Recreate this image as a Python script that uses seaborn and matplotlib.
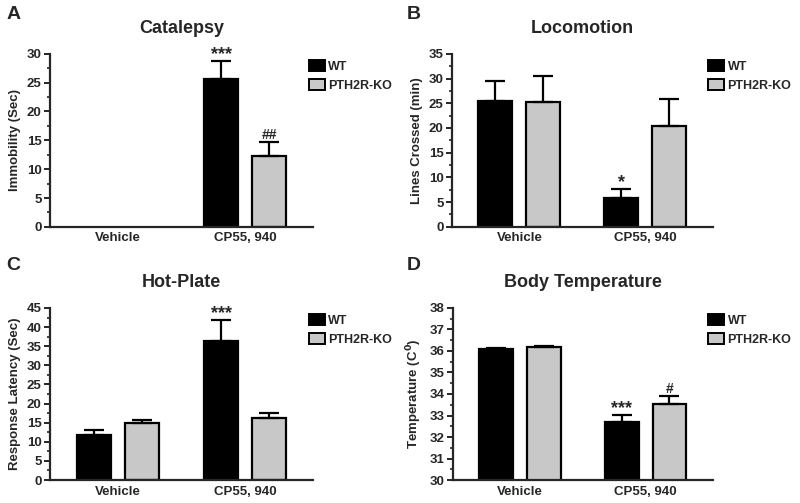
import numpy as np
import pandas as pd
import matplotlib
matplotlib.use("Agg")
import matplotlib.pyplot as plt
from matplotlib.ticker import AutoMinorLocator, MultipleLocator
from matplotlib.patches import Patch
import seaborn as sns

# data
treatments = ["Vehicle", "CP55, 940"]
genotypes = ["WT", "PTH2R-KO"]

catalepsy_wt = [0.0, 25.7]
catalepsy_ko = [0.0, 12.3]
catalepsy_wt_err = [0.0, 3.1]
catalepsy_ko_err = [0.0, 2.4]

locomotion_wt = [25.5, 5.9]
locomotion_ko = [25.3, 20.3]
locomotion_wt_err = [4.1, 1.7]
locomotion_ko_err = [5.2, 5.5]

hotplate_wt = [11.9, 36.4]
hotplate_ko = [14.9, 16.3]
hotplate_wt_err = [1.1, 5.5]
hotplate_ko_err = [0.8, 1.3]

temp_wt = [36.07, 32.70]
temp_ko = [36.18, 33.55]
temp_wt_err = [0.08, 0.34]
temp_ko_err = [0.07, 0.34]

# significance marks: (treatment index, genotype index, text)
catalepsy_marks = [(1, 0, "***"), (1, 1, "##")]
locomotion_marks = [(1, 0, "*")]
hotplate_marks = [(1, 0, "***")]
temp_marks = [(1, 0, "***"), (1, 1, "#")]

sns.set_style("ticks")
plt.rcParams["font.family"] = ["Liberation Sans", "DejaVu Sans"]
plt.rcParams["font.weight"] = "bold"
plt.rcParams["axes.labelweight"] = "bold"

colors = {"WT": "#000000", "PTH2R-KO": "#c8c8c8"}


def make_df(wt, ko, wt_err, ko_err):
    rows = []
    for i, t in enumerate(treatments):
        rows.append({"treatment": t, "genotype": "WT", "value": wt[i], "err": wt_err[i]})
        rows.append({"treatment": t, "genotype": "PTH2R-KO", "value": ko[i], "err": ko_err[i]})
    return pd.DataFrame(rows)


def panel(ax, df, marks, title, ylabel, ylim, step):
    sns.barplot(data=df, x="treatment", y="value", hue="genotype",
                order=treatments, hue_order=genotypes, palette=colors,
                width=0.76, gap=0.29, errorbar=None, edgecolor="black",
                linewidth=1.6, legend=False, ax=ax)
    # error bars (upper only) at the bar centres
    centers = {}
    for gi, g in enumerate(genotypes):
        cont = ax.containers[gi]
        for p in cont.patches:
            if p.get_height() == 0:
                p.set_linewidth(0)
        xs = [p.get_x() + p.get_width() / 2 for p in cont.patches]
        sub = df[df["genotype"] == g].set_index("treatment").loc[treatments]
        vals = sub["value"].values
        errs = sub["err"].values
        keep = errs > 0
        ax.errorbar(np.array(xs)[keep], vals[keep],
                    yerr=[np.zeros(keep.sum()), errs[keep]],
                    fmt="none", ecolor="black", elinewidth=1.6,
                    capsize=7, capthick=1.6, zorder=1)
        for ti in range(len(treatments)):
            centers[(ti, gi)] = (xs[ti], vals[ti] + errs[ti])
    for ti, gi, txt in marks:
        x, y = centers[(ti, gi)]
        if "*" in txt:
            size, dy = 13, -1.5
        else:
            size, dy = 10, 0
        ax.annotate(txt, (x, y), xytext=(0, dy), textcoords="offset points",
                    ha="center", va="bottom", fontsize=size, fontweight="bold")

    ax.set_xlim(-0.535, 1.535)
    ax.set_ylim(*ylim)
    ax.yaxis.set_major_locator(MultipleLocator(step))
    ax.yaxis.set_minor_locator(AutoMinorLocator(2))
    ax.set_xlabel("")
    ax.set_ylabel(ylabel, fontsize=9.5, fontweight="bold", labelpad=4)
    ax.set_title(title, fontsize=13, fontweight="bold", pad=15)
    for lab in ax.get_xticklabels() + ax.get_yticklabels():
        lab.set_fontweight("bold")
    ax.tick_params(axis="x", length=0, labelsize=9.5, pad=4)
    ax.tick_params(axis="y", which="major", length=4, width=1.4, labelsize=9.5, pad=2)
    ax.tick_params(axis="y", which="minor", length=2.5, width=1.2)
    sns.despine(ax=ax)
    for s in ["left", "bottom"]:
        ax.spines[s].set_linewidth(1.6)
    handles = [Patch(facecolor=colors[g], edgecolor="black", linewidth=1.4, label=g)
               for g in genotypes]
    ax.legend(handles=handles, loc="upper left", bbox_to_anchor=(0.94, 1.03),
              frameon=False, handlelength=1.28, handleheight=0.96,
              handletextpad=0.25, labelspacing=0.5,
              prop={"weight": "bold", "size": 9})


fig = plt.figure(figsize=(8, 5.03), dpi=100)
axA = fig.add_axes([0.0625, 0.549, 0.329, 0.344])
axB = fig.add_axes([0.565, 0.549, 0.326, 0.344])
axC = fig.add_axes([0.0625, 0.0457, 0.329, 0.342])
axD = fig.add_axes([0.566, 0.0457, 0.325, 0.342])

panel(axA, make_df(catalepsy_wt, catalepsy_ko, catalepsy_wt_err, catalepsy_ko_err),
      catalepsy_marks, "Catalepsy", "Immobility (Sec)", (0, 30), 5)
panel(axB, make_df(locomotion_wt, locomotion_ko, locomotion_wt_err, locomotion_ko_err),
      locomotion_marks, "Locomotion", "Lines Crossed (min)", (0, 35), 5)
panel(axC, make_df(hotplate_wt, hotplate_ko, hotplate_wt_err, hotplate_ko_err),
      hotplate_marks, "Hot-Plate", "Response Latency (Sec)", (0, 45), 5)
panel(axD, make_df(temp_wt, temp_ko, temp_wt_err, temp_ko_err),
      temp_marks, "Body Temperature", r"Temperature (C$^{\mathbf{0}}$)", (30, 38), 1)

# panel letters
for letter, (x, y) in zip("ABCD", [(0.008, 0.988), (0.509, 0.988),
                                   (0.008, 0.489), (0.509, 0.489)]):
    fig.text(x, y, letter, fontsize=14, fontweight="bold", ha="left", va="top")

fig.savefig("out.png", dpi=100)
